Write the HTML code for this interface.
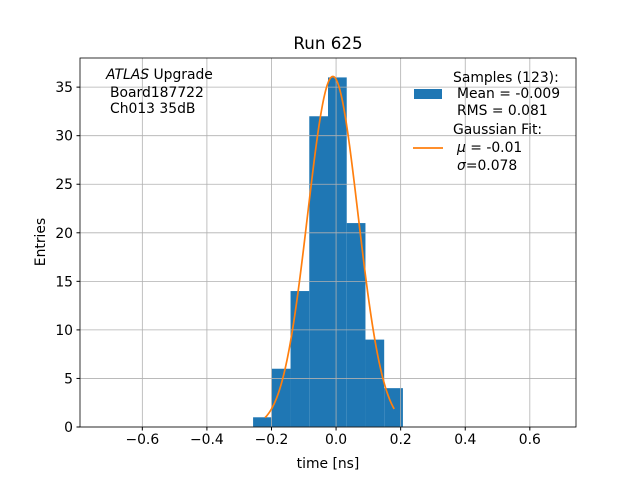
<!DOCTYPE html>
<html><head><meta charset="utf-8"><style>body{margin:0;background:#fff}svg{display:block;font-family:"DejaVu Sans","Liberation Sans",sans-serif}</style></head>
<body>
<svg id="c" width="640" height="480" xmlns="http://www.w3.org/2000/svg"></svg>
<script>
const binEdges=[-0.257,-0.199,-0.141,-0.083,-0.025,0.033,0.091,0.149,0.207];
const counts=[1,6,14,32,36,21,9,4];
const xTicks=[-0.6,-0.4,-0.2,0.0,0.2,0.4,0.6];
const yTicks=[0,5,10,15,20,25,30,35];
const fitAmp=[36.1];
const fitMu=[-0.01];
const fitSigma=[0.078];
const fitRange=[-0.22,0.18];
const L=80,R=576,T=58,B=427,xmin=-0.793,xmax=0.743,ymin=0,ymax=38;
const X=v=>L+(v-xmin)/(xmax-xmin)*(R-L);
const Y=v=>B-(v-ymin)/(ymax-ymin)*(B-T);
const svg=document.getElementById('c');const NS='http://www.w3.org/2000/svg';
function mk(t,a,p){const e=document.createElementNS(NS,t);for(const k in a)e.setAttribute(k,a[k]);(p||svg).appendChild(e);return e;}
const bars=mk('g',{});


counts.forEach((c,i)=>{const r=mk('rect',{x:X(binEdges[i]),y:Y(c),width:X(binEdges[i+1])-X(binEdges[i]),height:Y(0)-Y(c),fill:'#1f77b4'},bars);

});
const grid=mk('g',{stroke:'#b0b0b0','stroke-width':0.8});


xTicks.forEach(t=>{mk('line',{x1:X(t),x2:X(t),y1:T,y2:B},grid);mk('line',{x1:X(t),x2:X(t),y1:B,y2:B+3.5,stroke:'#000'});
const tx=mk('text',{x:X(t),y:B+17,'text-anchor':'middle','font-size':13.9});tx.textContent=(t<0?'\u2212':'')+Math.abs(t).toFixed(1);

});
yTicks.forEach(t=>{mk('line',{x1:L,x2:R,y1:Y(t),y2:Y(t)},grid);mk('line',{x1:L-3.5,x2:L,y1:Y(t),y2:Y(t),stroke:'#000'});
const tx=mk('text',{x:L-7,y:Y(t)+5,'text-anchor':'end','font-size':13.9});tx.textContent=t;

});
let d='';for(let i=0;i<=200;i++){const x=fitRange[0]+(fitRange[1]-fitRange[0])*i/200;const y=fitAmp[0]*Math.exp(-0.5*((x-fitMu[0])/fitSigma[0])**2);d+=(i?'L':'M')+X(x).toFixed(2)+','+Y(y).toFixed(2);}
const fit=mk('path',{d:d,fill:'none',stroke:'#ff7f0e','stroke-width':1.7});


mk('rect',{x:L,y:T,width:R-L,height:B-T,fill:'none',stroke:'#000','stroke-width':0.8});
</script>
<svg width="640" height="480" style="position:absolute;left:0;top:0" font-family="DejaVu Sans, Liberation Sans, sans-serif">
<text x="328" y="49" text-anchor="middle" font-size="16.7">Run 625</text>
<text x="328" y="468" text-anchor="middle" font-size="13.9">time [ns]</text>
<text transform="translate(45,242) rotate(-90)" text-anchor="middle" font-size="13.9">Entries</text>
<g font-size="13.9">
<text x="106" y="79"><tspan font-style="italic">ATLAS</tspan> Upgrade</text>
<text x="110" y="97">Board187722</text>
<text x="110" y="113">Ch013 35dB</text>
</g>
<g font-size="13.9">
<text x="453" y="82">Samples (123):</text>
<rect x="414" y="89" width="28" height="10" fill="#1f77b4"/>
<text x="457" y="98">Mean = -0.009</text>
<text x="457" y="115">RMS = 0.081</text>
<text x="453" y="134">Gaussian Fit:</text>
<line x1="413" x2="443" y1="148" y2="148" stroke="#ff7f0e" stroke-width="1.7"/>
<text x="457" y="152"><tspan font-style="italic">μ</tspan> = -0.01</text>
<text x="457" y="170"><tspan font-style="italic">σ</tspan>=0.078</text>
</g>
</svg>
</body></html>
